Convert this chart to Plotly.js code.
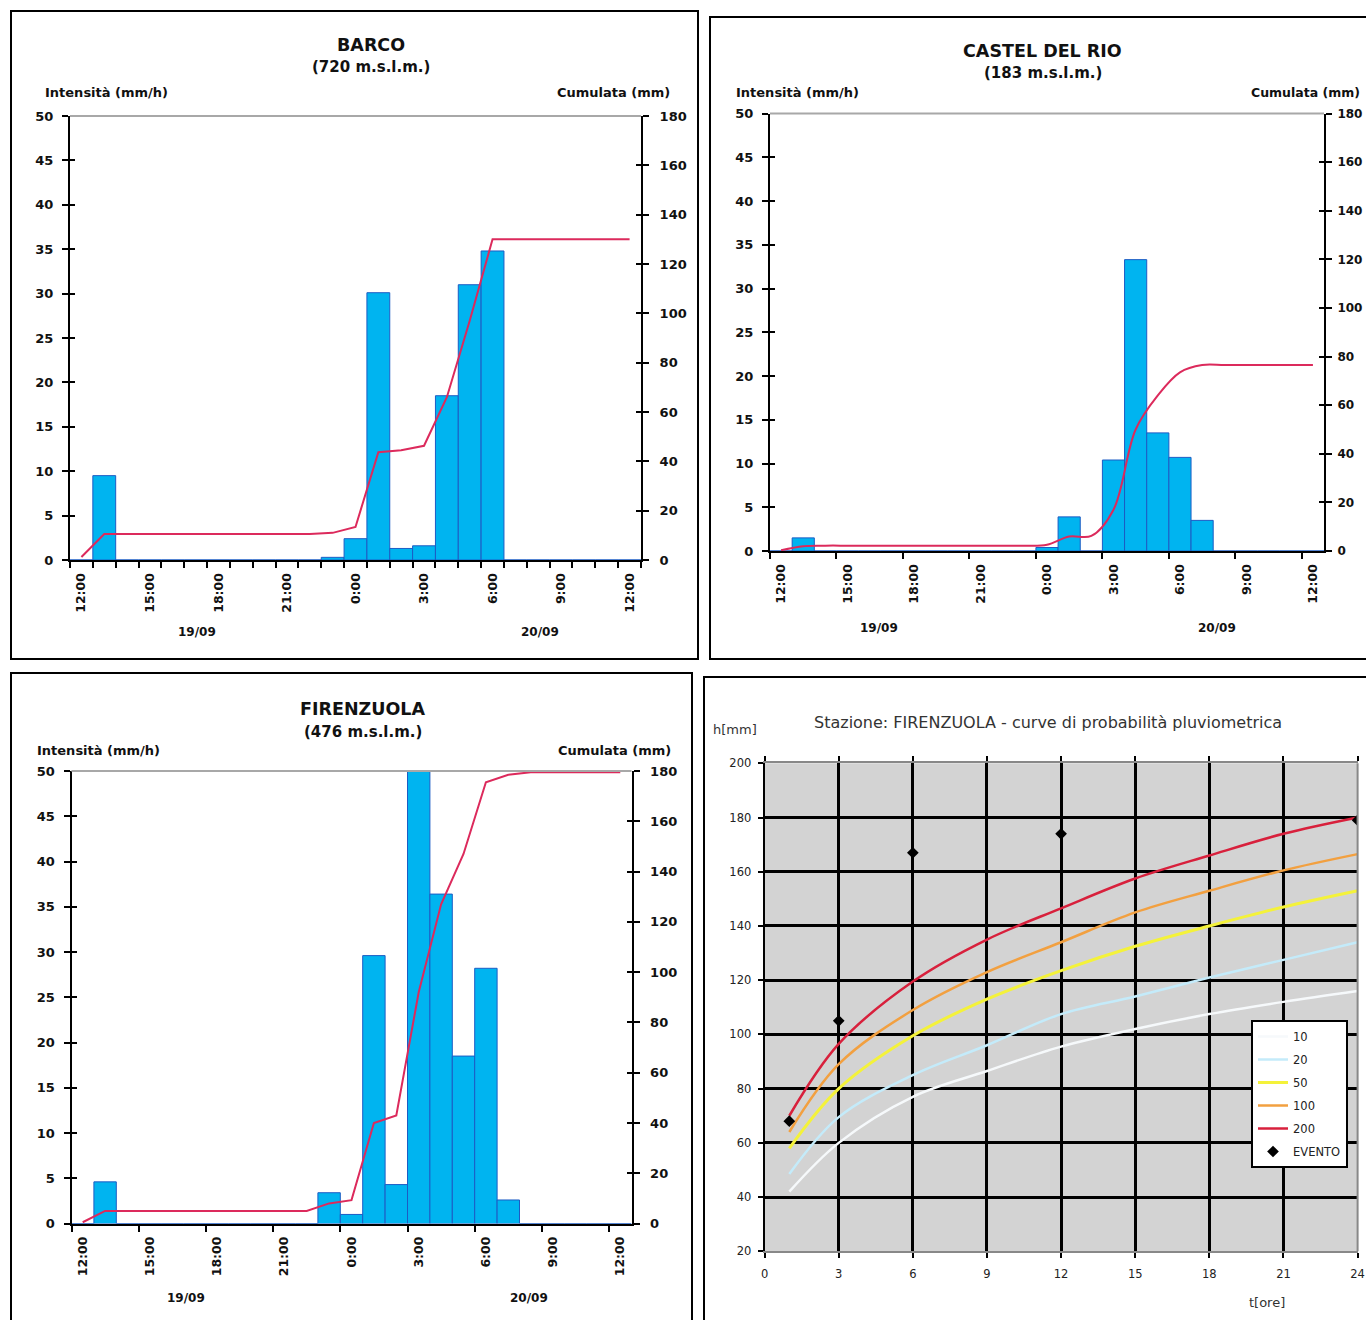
<!DOCTYPE html>
<html><head><meta charset="utf-8">
<script src="https://cdn.plot.ly/plotly-3.0.1.min.js"></script>
<style>html,body{margin:0;padding:0;background:#fff;}#chart{width:1366px;height:1320px;}</style>
</head><body><div id="chart"></div>
<script>
// ---------- DATA ----------
const hourLabels = ['12:00','13:00','14:00','15:00','16:00','17:00','18:00','19:00','20:00','21:00','22:00','23:00',
  '0:00','1:00','2:00','3:00','4:00','5:00','6:00','7:00','8:00','9:00','10:00','11:00','12:00'];
const dayLabels = ['19/09','20/09'];

const barcoIntensity   = [0, 9.5, 0,0,0,0,0,0,0,0,0, 0.3, 2.4, 30.1, 1.3, 1.6, 18.5, 31, 34.8, 0,0,0,0,0,0];
const barcoCumulative  = [1.2, 10.5, 10.5,10.5,10.5,10.5,10.5,10.5,10.5,10.5,10.5, 11, 13.4, 43.7, 44.5, 46.3, 66, 97, 130, 130,130,130,130,130,130];

const castelIntensity  = [0, 1.5, 0,0,0,0,0,0,0,0,0, 0, 0.4, 3.9, 0, 10.4, 33.3, 13.5, 10.7, 3.5, 0,0,0,0,0];
const castelCumulative = [0.3, 2, 2.2,2.2,2.2,2.2,2.2,2.2,2.2,2.2,2.2, 2.2, 2.6, 6, 6.2, 17, 50, 64, 73.5, 76.5, 76.5,76.5,76.5,76.5,76.5];

const firenzIntensity  = [0, 4.6, 0,0,0,0,0,0,0,0,0, 3.4, 1.0, 29.6, 4.3, 50, 36.4, 18.5, 28.2, 2.6, 0,0,0,0,0];
const firenzCumulative = [0.5, 5, 5,5,5,5,5,5,5,5,5, 8, 9.3, 40, 43, 92, 127, 147, 175.5, 178.5, 179.5,179.5,179.5,179.5,179.5];

const durations = [1, 3, 6, 9, 12, 15, 18, 21, 24];
const returnPeriods = ['10', '20', '50', '100', '200'];
const h10  = [42, 60, 77, 86.5, 95.5, 102, 107.5, 112, 116];
const h20  = [48.5, 69.5, 85, 96, 107.5, 114, 121, 127.5, 134];
const h50  = [58, 80, 99.5, 113, 123.5, 132.5, 140, 147, 153];
const h100 = [64, 89, 109, 123, 134, 145, 153, 160.5, 166.5];
const h200 = [70, 96.5, 119.5, 135, 146.5, 157.5, 166, 174, 180];
const eventDurations = [1, 3, 6, 12, 24];
const eventDepths = [68, 105, 167, 174, 179];

// ---------- HELPERS ----------
const W = 1366, H = 1320;
const px = v => v / W;
const py = v => 1 - v / H;
const idx = hourLabels.map((_, i) => i);
const labelIdx = idx.filter(i => i % 3 === 0);
const labelText = labelIdx.map(i => hourLabels[i]);

const BAR_FILL = '#00b4f0', BAR_EDGE = '#1c5cc4', LINE = '#dc2a5c';
const FONT = 'DejaVu Sans';
const boldFont = (s, c) => ({family: FONT, size: s, color: c || '#111', weight: 'bold'});

function histX(l, r, anchor, step) {
  const bounds = [];
  for (let b = -0.5; b <= 24.5 + 1e-9; b += step) bounds.push(b);
  return {
    domain: [px(l), px(r)], range: [-0.5, 24.5], anchor: anchor,
    tickmode: 'array', tickvals: labelIdx, ticktext: labelText, tickangle: -90,
    ticks: '', showgrid: false, zeroline: false, showline: true, linecolor: '#000', linewidth: 2,
    tickfont: boldFont(12.5), ticklabelstandoff: 6, fixedrange: true,
    minor: {tickmode: 'array', tickvals: bounds, ticks: 'outside', ticklen: 6, tickwidth: 2, tickcolor: '#000', showgrid: false}
  };
}
function histYL(t, b, anchor) {
  return {domain: [py(b), py(t)], range: [0, 50], anchor: anchor, tickmode: 'linear', tick0: 0, dtick: 5,
    ticks: 'outside', ticklen: 6, tickwidth: 2, tickcolor: '#000', showline: true, linecolor: '#000', linewidth: 2,
    showgrid: false, zeroline: false, tickfont: boldFont(13), ticklabelstandoff: 6, fixedrange: true};
}
function histYR(over, anchor, fs, standoff) {
  return {overlaying: over, side: 'right', anchor: anchor, range: [0, 180], tickmode: 'linear', tick0: 0, dtick: 20,
    ticks: 'outside', ticklen: 6, tickwidth: 2, tickcolor: '#000', showline: true, linecolor: '#000', linewidth: 2,
    showgrid: false, zeroline: false, tickfont: boldFont(fs), ticklabelstandoff: standoff, fixedrange: true};
}
// inner half of the crossing tick marks
function innerTicks(over, anchor, side, range, dtick) {
  return {overlaying: over, side: side, anchor: anchor, range: range, tickmode: 'linear', tick0: range[0], dtick: dtick,
    ticks: 'inside', ticklen: 5, tickwidth: 2, tickcolor: '#000', showticklabels: false, showline: false,
    showgrid: false, zeroline: false, fixedrange: true};
}
function barTrace(y, xa, ya) {
  return {type: 'bar', x: idx, y: y, width: 1, xaxis: xa, yaxis: ya, showlegend: false,
    marker: {color: BAR_FILL, line: {color: BAR_EDGE, width: 1}}, hoverinfo: 'skip'};
}
function cumTrace(y, xa, ya, smooth) {
  return {type: 'scatter', mode: 'lines', x: idx, y: y, xaxis: xa, yaxis: ya, showlegend: false,
    line: {color: LINE, width: 2, shape: smooth ? 'spline' : 'linear'}, hoverinfo: 'skip'};
}
function emptyTrace(xa, ya) {
  return {type: 'scatter', mode: 'lines', x: [], y: [], xaxis: xa, yaxis: ya, showlegend: false, hoverinfo: 'skip'};
}

// ---------- TRACES ----------
const curveColors = ['#f6f9fb', '#c4ebfa', '#f4f23a', '#f2a040', '#d8203c'];
const curveWidths = [2.5, 2.5, 3, 2.5, 2.5];
const curves = [h10, h20, h50, h100, h200];

const traces = [
  barTrace(barcoIntensity, 'x', 'y'), cumTrace(barcoCumulative, 'x', 'y2', false),
  barTrace(castelIntensity, 'x2', 'y3'), cumTrace(castelCumulative, 'x2', 'y4', true),
  barTrace(firenzIntensity, 'x3', 'y5'), cumTrace(firenzCumulative, 'x3', 'y6', false),
  emptyTrace('x', 'y8'), emptyTrace('x', 'y9'),
  emptyTrace('x2', 'y10'), emptyTrace('x2', 'y11'),
  emptyTrace('x3', 'y12'), emptyTrace('x3', 'y13')
];
curves.forEach((h, k) => traces.push({
  type: 'scatter', mode: 'lines', x: durations, y: h, name: returnPeriods[k], legendgroup: 'g' + k,
  xaxis: 'x4', yaxis: 'y7', line: {color: curveColors[k], width: curveWidths[k], shape: 'spline'}
}));
traces.push({type: 'scatter', mode: 'markers', x: eventDurations, y: eventDepths, name: 'EVENTO', legendgroup: 'ge',
  xaxis: 'x4', yaxis: 'y7', marker: {symbol: 'diamond', size: 9, color: '#000'}});

// ---------- LAYOUT ----------
function ann(text, x, y, font, opts) {
  return Object.assign({text: text, xref: 'paper', yref: 'paper', x: px(x), y: py(y), xanchor: 'center', yanchor: 'middle',
    showarrow: false, font: font}, opts || {});
}
const annotations = [
  ann('BARCO', 371, 45, boldFont(17.5)), ann('(720 m.s.l.m.)', 371, 67, boldFont(15)),
  ann('Intensità (mm/h)', 106, 92, boldFont(13)), ann('Cumulata (mm)', 613, 92, boldFont(13)),
  ann(dayLabels[0], 197, 632, boldFont(12)), ann(dayLabels[1], 540, 632, boldFont(12)),

  ann('CASTEL DEL RIO', 1042, 51, boldFont(17.5)), ann('(183 m.s.l.m.)', 1043, 73, boldFont(15)),
  ann('Intensità (mm/h)', 797, 92, boldFont(13)), ann('Cumulata (mm)', 1305, 92, boldFont(12.5)),
  ann(dayLabels[0], 879, 628, boldFont(12)), ann(dayLabels[1], 1217, 628, boldFont(12)),

  ann('FIRENZUOLA', 362, 709, boldFont(17.5)), ann('(476 m.s.l.m.)', 363, 732, boldFont(15)),
  ann('Intensità (mm/h)', 98, 750, boldFont(13)), ann('Cumulata (mm)', 614, 750, boldFont(13)),
  ann(dayLabels[0], 186, 1298, boldFont(12)), ann(dayLabels[1], 529, 1298, boldFont(12)),

  ann('Stazione: FIRENZUOLA - curve di probabilità pluviometrica', 1048, 722, {family: FONT, size: 16, color: '#333'}),
  ann('h[mm]', 735, 729, {family: FONT, size: 13, color: '#333'}),
  ann('t[ore]', 1267, 1302, {family: FONT, size: 13, color: '#333'})
];

function border(x0, y0, x1, y1) {
  return {type: 'rect', xref: 'paper', yref: 'paper', x0: px(x0), x1: px(x1), y0: py(y1), y1: py(y0),
    line: {color: '#000', width: 2}, fillcolor: 'rgba(0,0,0,0)', layer: 'above'};
}
function topLine(xa, ya) {
  return {type: 'line', xref: xa + ' domain', yref: ya + ' domain', x0: 0, x1: 1, y0: 1, y1: 1,
    line: {color: '#a8a8a8', width: 2}, layer: 'above'};
}
const shapes = [
  border(11, 11, 698, 659), border(710, 17, 1368, 659), border(11, 673, 692, 1324), border(704, 677, 1368, 1324),
  topLine('x', 'y'), topLine('x2', 'y3'), topLine('x3', 'y5'),
  {type: 'rect', xref: 'x4 domain', yref: 'y7 domain', x0: 0, x1: 1, y0: 0, y1: 1, fillcolor: '#d3d3d3',
    line: {width: 0}, layer: 'below'},
  {type: 'line', xref: 'x4 domain', yref: 'y7 domain', x0: 1, x1: 1, y0: 0, y1: 1, line: {color: '#888', width: 2}, layer: 'above'}
];

const p4font = {family: FONT, size: 11.5, color: '#222'};
const layout = {
  width: W, height: H, margin: {l: 0, r: 0, t: 0, b: 0}, paper_bgcolor: '#fff', plot_bgcolor: 'rgba(0,0,0,0)',
  bargap: 0, barmode: 'overlay', showlegend: true, hovermode: false,
  xaxis: histX(70, 641, 'y', 1), yaxis: histYL(116, 560, 'x'), yaxis2: histYR('y', 'x', 13, 8),
  yaxis8: innerTicks('y', 'x', 'left', [0, 50], 5), yaxis9: innerTicks('y', 'x', 'right', [0, 180], 20),
  xaxis2: histX(770, 1324, 'y3', 3), yaxis3: histYL(113.5, 551, 'x2'), yaxis4: histYR('y3', 'x2', 12, 3),
  yaxis10: innerTicks('y3', 'x2', 'left', [0, 50], 5), yaxis11: innerTicks('y3', 'x2', 'right', [0, 180], 20),
  xaxis3: histX(71.5, 631.5, 'y5', 3), yaxis5: histYL(771, 1223.5, 'x3'), yaxis6: histYR('y5', 'x3', 13, 8),
  yaxis12: innerTicks('y5', 'x3', 'left', [0, 50], 5), yaxis13: innerTicks('y5', 'x3', 'right', [0, 180], 20),
  xaxis4: {domain: [px(764.6), px(1357.6)], anchor: 'y7', range: [0, 24], tickmode: 'linear', tick0: 0, dtick: 3,
    ticks: 'outside', ticklen: 5, tickwidth: 2, tickcolor: '#000', showgrid: true, gridcolor: '#000', gridwidth: 3,
    showline: true, linecolor: '#888', linewidth: 2, mirror: 'ticks', zeroline: false, tickfont: p4font,
    ticklabelstandoff: 6, fixedrange: true},
  yaxis7: {domain: [py(1251.3), py(763.3)], anchor: 'x4', range: [20, 200], tickmode: 'linear', tick0: 20, dtick: 20,
    ticks: 'outside', ticklen: 5, tickwidth: 2, tickcolor: '#000', showgrid: true, gridcolor: '#000', gridwidth: 3,
    showline: true, linecolor: '#000', linewidth: 2, zeroline: false, tickfont: p4font, ticklabelstandoff: 4, fixedrange: true},
  legend: {x: px(1251), y: py(1020), xanchor: 'left', yanchor: 'top', bgcolor: '#fff', bordercolor: '#000', borderwidth: 2,
    font: {family: FONT, size: 11.5, color: '#222'}, traceorder: 'grouped', tracegroupgap: 4, itemwidth: 30},
  annotations: annotations, shapes: shapes
};

Plotly.newPlot('chart', traces, layout, {displayModeBar: false, staticPlot: true});
</script>
</body></html>
